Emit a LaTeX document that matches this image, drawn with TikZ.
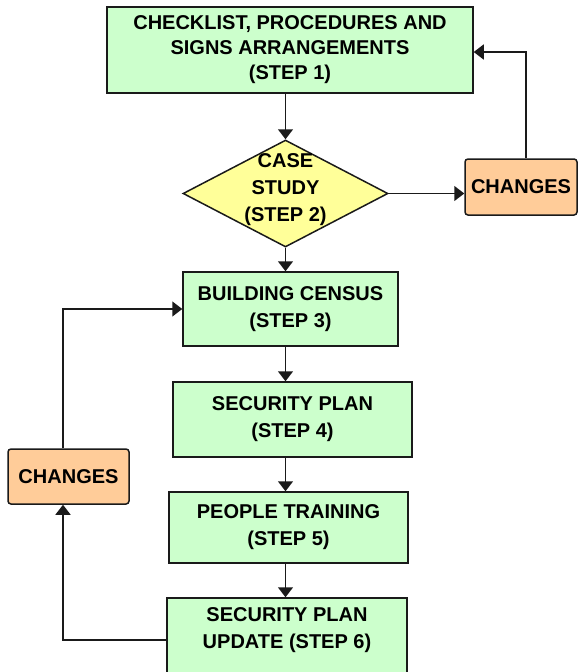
\documentclass[tikz,border=0pt]{standalone}
\usepackage{fontspec}
\setmainfont{Liberation Sans}
\usetikzlibrary{arrows.meta,shapes.geometric}
\definecolor{stepgreen}{HTML}{CCFFCC}
\definecolor{caseyellow}{HTML}{FFFF99}
\definecolor{chgorange}{HTML}{FFCC99}
\definecolor{edge}{HTML}{1A1A1A}
\begin{document}
\begin{tikzpicture}[x=1pt,y=-1pt,
  txt/.style={font=\bfseries\fontsize{20}{27}\selectfont, align=center, inner sep=0pt},
  stepbox/.style={txt, draw=edge, line width=1.5pt, fill=stepgreen},
  chgbox/.style={txt, draw=edge, line width=1.5pt, fill=chgorange, rounded corners=3pt},
  arr/.style={draw=edge, line width=1.5pt, -{Triangle[width=15pt,length=10pt]}}]
\useasboundingbox[fill=white] (0,0) rectangle (578,672);
% steps
\node[stepbox, minimum width=366pt, minimum height=86pt, font=\bfseries\fontsize{20}{25}\selectfont] (s1) at (290,50) {CHECKLIST, PROCEDURES AND\\SIGNS ARRANGEMENTS\\(STEP 1)};
\node[diamond, draw=edge, line width=1.5pt, fill=caseyellow, minimum width=205pt, minimum height=107pt, inner sep=0pt] (s2) at (285.5,193.5) {};
\node[txt] (s2t) at (285.5,189.5) {CASE\\STUDY\\(STEP 2)};
\node[stepbox, minimum width=215pt, minimum height=74pt] (s3) at (290.5,309) {BUILDING CENSUS\\(STEP 3)};
\node[stepbox, minimum width=239pt, minimum height=75pt] (s4) at (292.5,419.5) {SECURITY PLAN\\(STEP 4)};
\node[stepbox, minimum width=239pt, minimum height=71pt] (s5) at (288.5,527.5) {PEOPLE TRAINING\\(STEP 5)};
\node[stepbox, minimum width=240pt, minimum height=80pt] (s6) at (287,638) {};
\node[txt] (s6t) at (287,630.5) {SECURITY PLAN\\UPDATE (STEP 6)};
% changes
\node[chgbox, minimum width=112pt, minimum height=56pt] (c1) at (521,187) {CHANGES};
\node[chgbox, minimum width=121pt, minimum height=55pt] (c2) at (68.5,476.5) {CHANGES};
% main flow
\draw[arr] (s2.north |- s1.south) -- (s2.north);
\draw[arr] (s2.south) -- (s2.south |- s3.north);
\draw[arr] (s2.south |- s3.south) -- (s2.south |- s4.north);
\draw[arr] (s2.south |- s4.south) -- (s2.south |- s5.north);
\draw[arr] (s2.south |- s5.south) -- (s2.south |- s6.north);
% feedback loops
\draw[arr] (s2.east) -- (c1.west |- s2.east);
\draw[arr] ([xshift=5pt]c1.north) |- ([yshift=-2pt]s1.east);
\draw[arr] ([yshift=-2pt]s6.west) -| ([xshift=-5.5pt]c2.south);
\draw[arr] ([xshift=-5.5pt]c2.north) |- (s3.west);
\end{tikzpicture}
\end{document}
